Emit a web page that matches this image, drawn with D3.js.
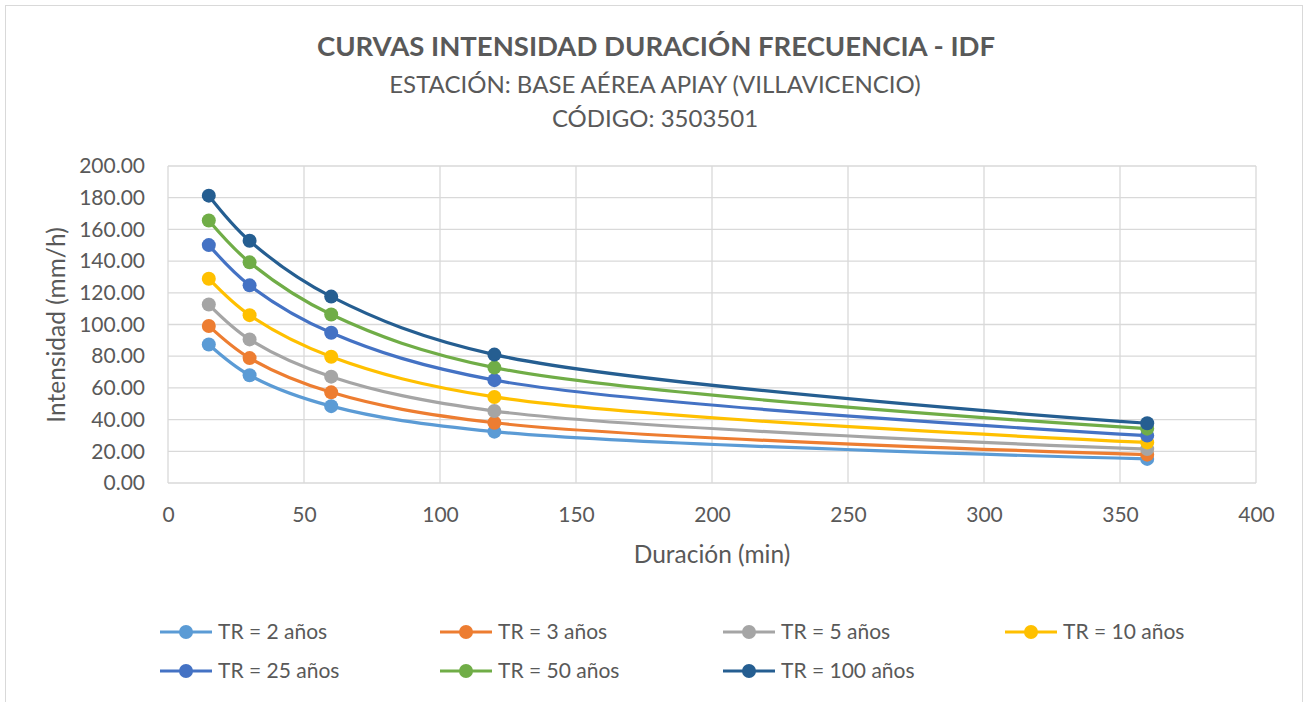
<!DOCTYPE html>
<html><head><meta charset="utf-8">
<script src="https://cdn.jsdelivr.net/npm/d3@7"></script>
<style>
body{margin:0;background:#fff;}
svg{display:block;font-family:Lato,"Open Sans",sans-serif;}
</style></head>
<body><svg id="c" width="1308" height="702"></svg>
<script>
const durations = [15, 30, 60, 120, 360];
const seriesNames = ["TR = 2 años","TR = 3 años","TR = 5 años","TR = 10 años","TR = 25 años","TR = 50 años","TR = 100 años"];
const tr2   = [87.4, 68.0, 48.5, 32.4, 15.2];
const tr3   = [99.1, 78.8, 57.2, 38.0, 17.9];
const tr5   = [112.6, 90.6, 67.1, 45.4, 21.4];
const tr10  = [128.9, 105.9, 79.7, 54.3, 25.6];
const tr25  = [150.1, 124.7, 94.8, 64.9, 29.9];
const tr50  = [165.6, 139.2, 106.3, 72.8, 34.3];
const tr100 = [181.3, 152.8, 117.6, 81.0, 37.7];
const colors = ["#5b9bd5","#ed7d31","#a5a5a5","#ffc000","#4472c4","#70ad47","#255e91"];
const xTicks = [0,50,100,150,200,250,300,350,400];
const yTicks = [0,20,40,60,80,100,120,140,160,180,200];
const titleText = "CURVAS INTENSIDAD DURACIÓN FRECUENCIA - IDF";
const sub1 = "ESTACIÓN: BASE AÉREA APIAY (VILLAVICENCIO)";
const sub2 = "CÓDIGO: 3503501";

const allSeries = [tr2,tr3,tr5,tr10,tr25,tr50,tr100];
const svg = d3.select("#c");
const txt = "#595959";
svg.append("rect").attr("x",5.5).attr("y",5.5).attr("width",1297).attr("height",700).attr("fill","#fff").attr("stroke","#d9d9d9");

const L=168, R=1256, T=166, B=483;
const x = d3.scaleLinear().domain([0,400]).range([L,R]);
const y = d3.scaleLinear().domain([0,200]).range([B,T]);

// gridlines
svg.append("g").selectAll("line").data(yTicks).join("line")
  .attr("x1",L).attr("x2",R).attr("y1",d=>y(d)).attr("y2",d=>y(d))
  .attr("stroke","#d9d9d9").attr("stroke-width",1.3);
svg.append("g").selectAll("line").data(xTicks).join("line")
  .attr("y1",T).attr("y2",B).attr("x1",d=>x(d)).attr("x2",d=>x(d))
  .attr("stroke","#d9d9d9").attr("stroke-width",1.3);

// axes
const yAxis = svg.append("g").attr("transform",`translate(${L},0)`)
  .call(d3.axisLeft(y).tickValues(yTicks).tickFormat(d3.format(".2f")).tickSize(0).tickPadding(23));
const xAxis = svg.append("g").attr("transform",`translate(0,${B})`)
  .call(d3.axisBottom(x).tickValues(xTicks).tickSize(0).tickPadding(24));
[yAxis,xAxis].forEach(a=>{a.select(".domain").remove();
  a.selectAll("text").attr("fill",txt).attr("font-size",21).attr("font-family","Lato,sans-serif");});

// titles
svg.append("text").attr("x",656).attr("y",56).attr("text-anchor","middle").attr("font-weight","bold")
  .attr("font-size",27.5).attr("fill",txt).text(titleText);
svg.append("text").attr("x",655).attr("y",93).attr("text-anchor","middle")
  .attr("font-size",24).attr("fill",txt).text(sub1);
svg.append("text").attr("x",655).attr("y",127).attr("text-anchor","middle")
  .attr("font-size",24).attr("fill",txt).text(sub2);
svg.append("text").attr("transform","translate(65,325) rotate(-90)").attr("text-anchor","middle")
  .attr("font-size",24.5).attr("fill",txt).text("Intensidad (mm/h)");
svg.append("text").attr("x",712).attr("y",563).attr("text-anchor","middle")
  .attr("font-size",24.5).attr("fill",txt).text("Duración (min)");

// lines
const line = d3.line().x(d=>x(d[0])).y(d=>y(d[1])).curve(d3.curveCatmullRom.alpha(0.5));
allSeries.forEach((s,i)=>{
  const pts = durations.map((d,j)=>[d,s[j]]);
  svg.append("path").attr("d",line(pts)).attr("fill","none").attr("stroke",colors[i]).attr("stroke-width",3.2);
});
allSeries.forEach((s,i)=>{
  const pts = durations.map((d,j)=>[d,s[j]]);
  svg.append("g").selectAll("circle").data(pts).join("circle")
    .attr("cx",d=>x(d[0])).attr("cy",d=>y(d[1])).attr("r",7).attr("fill",colors[i]);
});

// legend
const legX = [160,440,723,1005], legY=[632,671];
seriesNames.forEach((n,i)=>{
  const lx = legX[i%4], ly = legY[Math.floor(i/4)];
  const g = svg.append("g");
  g.append("line").attr("x1",lx).attr("x2",lx+52).attr("y1",ly).attr("y2",ly).attr("stroke",colors[i]).attr("stroke-width",3.2);
  g.append("circle").attr("cx",lx+26).attr("cy",ly).attr("r",7).attr("fill",colors[i]);
  g.append("text").attr("x",lx+58).attr("y",ly).attr("dy","0.35em").attr("font-size",21).attr("fill",txt).text(n);
});
</script></body></html>
